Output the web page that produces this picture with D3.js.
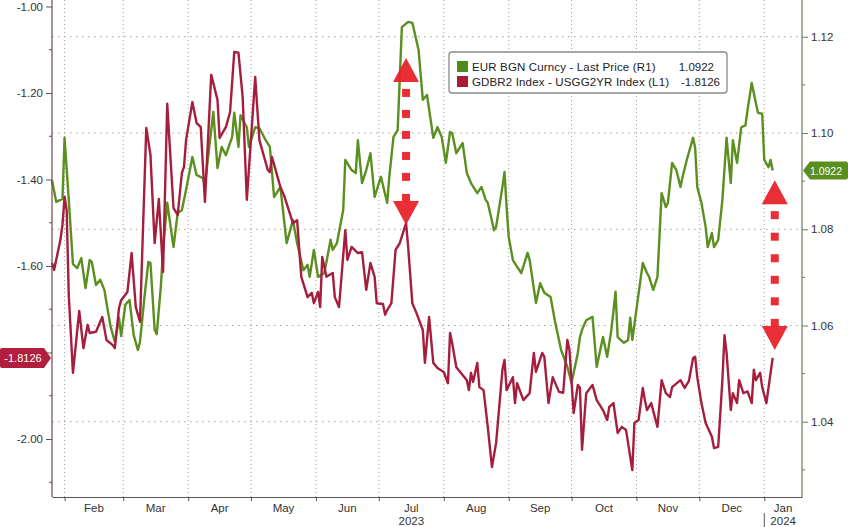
<!DOCTYPE html>
<html><head><meta charset="utf-8">
<script src="https://cdn.jsdelivr.net/npm/d3@7"></script>
<style>body{margin:0;background:#fff}svg{display:block;font-family:"Liberation Sans",Arial,sans-serif}</style>
</head><body><svg id="c" width="848" height="527"></svg>
<script>
// ---------- DATA ----------
const greenDates=["2023-01-26","2023-01-28","2023-01-31","2023-02-01","2023-02-03","2023-02-05","2023-02-07","2023-02-09","2023-02-11","2023-02-13","2023-02-14","2023-02-16","2023-02-18","2023-02-20","2023-02-21","2023-02-23","2023-02-25","2023-02-27","2023-02-28","2023-03-02","2023-03-04","2023-03-06","2023-03-08","2023-03-09","2023-03-11","2023-03-13","2023-03-14","2023-03-16","2023-03-17","2023-03-19","2023-03-20","2023-03-22","2023-03-25","2023-03-27","2023-03-29","2023-03-31","2023-04-03","2023-04-05","2023-04-08","2023-04-09","2023-04-13","2023-04-15","2023-04-17","2023-04-19","2023-04-22","2023-04-23","2023-04-25","2023-04-26","2023-04-29","2023-04-30","2023-05-03","2023-05-05","2023-05-08","2023-05-10","2023-05-12","2023-05-15","2023-05-18","2023-05-21","2023-05-23","2023-05-26","2023-05-28","2023-05-29","2023-05-31","2023-06-02","2023-06-05","2023-06-08","2023-06-09","2023-06-11","2023-06-14","2023-06-15","2023-06-18","2023-06-20","2023-06-21","2023-06-23","2023-06-25","2023-06-27","2023-06-29","2023-07-02","2023-07-05","2023-07-06","2023-07-08","2023-07-10","2023-07-12","2023-07-15","2023-07-17","2023-07-20","2023-07-22","2023-07-24","2023-07-27","2023-07-29","2023-07-31","2023-08-02","2023-08-04","2023-08-05","2023-08-07","2023-08-10","2023-08-12","2023-08-14","2023-08-17","2023-08-19","2023-08-21","2023-08-22","2023-08-25","2023-08-26","2023-08-29","2023-08-30","2023-08-31","2023-09-01","2023-09-03","2023-09-05","2023-09-07","2023-09-10","2023-09-11","2023-09-14","2023-09-16","2023-09-18","2023-09-21","2023-09-23","2023-09-26","2023-09-29","2023-10-01","2023-10-04","2023-10-05","2023-10-06","2023-10-08","2023-10-11","2023-10-13","2023-10-16","2023-10-18","2023-10-20","2023-10-22","2023-10-23","2023-10-26","2023-10-28","2023-10-29","2023-10-30","2023-11-04","2023-11-06","2023-11-07","2023-11-09","2023-11-11","2023-11-13","2023-11-15","2023-11-16","2023-11-18","2023-11-20","2023-11-22","2023-11-23","2023-11-25","2023-11-28","2023-11-29","2023-11-30","2023-12-02","2023-12-04","2023-12-05","2023-12-07","2023-12-08","2023-12-10","2023-12-12","2023-12-14","2023-12-16","2023-12-17","2023-12-19","2023-12-21","2023-12-23","2023-12-24","2023-12-26","2023-12-28","2023-12-29","2023-12-31","2024-01-01","2024-01-03","2024-01-04","2024-01-05"];
const greenValues=[1.0902,1.0857,1.0863,1.0990,1.0861,1.0728,1.0719,1.0740,1.0678,1.0736,1.0732,1.0684,1.0695,1.0674,1.0647,1.0597,1.0566,1.0616,1.0578,1.0643,1.0653,1.0580,1.0549,1.0566,1.0653,1.0732,1.0730,1.0591,1.0582,1.0684,1.0757,1.0855,1.0763,1.0834,1.0840,1.0882,1.0950,1.0913,1.0906,1.0892,1.1044,1.0927,1.0971,1.0954,1.0992,1.1042,1.0971,1.1037,1.1012,1.0971,1.1012,1.1010,1.0985,1.0971,1.0867,1.0888,1.0771,1.0819,1.0771,1.0715,1.0726,1.0701,1.0757,1.0701,1.0709,1.0778,1.0757,1.0771,1.0840,1.0944,1.0923,1.0917,1.0985,1.0896,1.0923,1.0958,1.0867,1.0909,1.0855,1.0909,1.0992,1.1006,1.1220,1.1231,1.1229,1.1172,1.1069,1.1079,1.0990,1.1012,1.0992,1.0938,1.1002,1.1000,1.0958,1.0979,1.0917,1.0896,1.0875,1.0888,1.0861,1.0855,1.0798,1.0805,1.0888,1.0919,1.0846,1.0784,1.0736,1.0722,1.0709,1.0751,1.0736,1.0647,1.0688,1.0668,1.0659,1.0611,1.0549,1.0514,1.0481,1.0543,1.0576,1.0591,1.0611,1.0618,1.0514,1.0576,1.0535,1.0591,1.0670,1.0576,1.0564,1.0570,1.0616,1.0570,1.0730,1.0709,1.0701,1.0674,1.0701,1.0875,1.0846,1.0855,1.0938,1.0923,1.0888,1.0909,1.0944,1.0990,1.0969,1.0888,1.0855,1.0805,1.0763,1.0792,1.0763,1.0778,1.0861,1.0990,1.0896,1.0985,1.0938,1.1012,1.1016,1.1048,1.1104,1.1062,1.1042,1.1040,1.0944,1.0929,1.0944,1.0922];

const redDates=["2023-01-26","2023-01-27","2023-01-30","2023-01-31","2023-02-01","2023-02-02","2023-02-03","2023-02-05","2023-02-08","2023-02-10","2023-02-12","2023-02-13","2023-02-16","2023-02-19","2023-02-21","2023-02-24","2023-02-25","2023-02-27","2023-02-28","2023-03-03","2023-03-05","2023-03-07","2023-03-09","2023-03-12","2023-03-14","2023-03-16","2023-03-18","2023-03-20","2023-03-22","2023-03-25","2023-03-27","2023-03-29","2023-03-30","2023-03-31","2023-04-03","2023-04-05","2023-04-07","2023-04-09","2023-04-12","2023-04-15","2023-04-16","2023-04-19","2023-04-21","2023-04-23","2023-04-25","2023-04-27","2023-04-29","2023-05-03","2023-05-05","2023-05-09","2023-05-10","2023-05-11","2023-05-15","2023-05-17","2023-05-21","2023-05-23","2023-05-25","2023-05-28","2023-05-30","2023-05-31","2023-06-02","2023-06-03","2023-06-04","2023-06-06","2023-06-09","2023-06-10","2023-06-12","2023-06-15","2023-06-16","2023-06-18","2023-06-21","2023-06-23","2023-06-25","2023-06-27","2023-06-29","2023-06-30","2023-07-03","2023-07-04","2023-07-05","2023-07-07","2023-07-09","2023-07-11","2023-07-14","2023-07-15","2023-07-17","2023-07-19","2023-07-22","2023-07-23","2023-07-25","2023-07-27","2023-07-29","2023-08-01","2023-08-03","2023-08-04","2023-08-05","2023-08-07","2023-08-10","2023-08-12","2023-08-13","2023-08-14","2023-08-15","2023-08-17","2023-08-18","2023-08-20","2023-08-22","2023-08-24","2023-08-26","2023-08-29","2023-08-30","2023-08-31","2023-09-03","2023-09-04","2023-09-05","2023-09-08","2023-09-11","2023-09-13","2023-09-14","2023-09-17","2023-09-18","2023-09-20","2023-09-22","2023-09-25","2023-09-27","2023-09-29","2023-09-30","2023-10-02","2023-10-04","2023-10-05","2023-10-06","2023-10-08","2023-10-11","2023-10-13","2023-10-16","2023-10-18","2023-10-19","2023-10-21","2023-10-23","2023-10-25","2023-10-27","2023-10-30","2023-10-31","2023-11-02","2023-11-04","2023-11-05","2023-11-06","2023-11-08","2023-11-11","2023-11-13","2023-11-15","2023-11-17","2023-11-18","2023-11-22","2023-11-24","2023-11-26","2023-11-28","2023-11-29","2023-11-30","2023-12-02","2023-12-04","2023-12-07","2023-12-08","2023-12-10","2023-12-12","2023-12-13","2023-12-14","2023-12-16","2023-12-17","2023-12-19","2023-12-20","2023-12-22","2023-12-24","2023-12-26","2023-12-27","2023-12-28","2023-12-30","2023-12-31","2024-01-02","2024-01-05"];
const redValues=[-1.593,-1.609,-1.540,-1.505,-1.440,-1.471,-1.667,-1.847,-1.704,-1.790,-1.736,-1.755,-1.752,-1.718,-1.771,-1.783,-1.790,-1.697,-1.679,-1.660,-1.570,-1.695,-1.729,-1.281,-1.343,-1.547,-1.445,-1.614,-1.225,-1.466,-1.482,-1.385,-1.371,-1.309,-1.221,-1.269,-1.279,-1.452,-1.158,-1.216,-1.304,-1.279,-1.244,-1.105,-1.107,-1.209,-1.447,-1.163,-1.309,-1.378,-1.383,-1.348,-1.417,-1.440,-1.501,-1.494,-1.625,-1.672,-1.662,-1.686,-1.660,-1.695,-1.579,-1.625,-1.616,-1.672,-1.695,-1.517,-1.586,-1.556,-1.570,-1.568,-1.655,-1.593,-1.625,-1.686,-1.688,-1.713,-1.702,-1.686,-1.563,-1.547,-1.501,-1.556,-1.686,-1.709,-1.748,-1.824,-1.718,-1.824,-1.836,-1.845,-1.871,-1.755,-1.778,-1.834,-1.852,-1.864,-1.887,-1.847,-1.868,-1.824,-1.880,-1.887,-1.972,-2.065,-2.009,-1.840,-1.817,-1.887,-1.857,-1.917,-1.871,-1.910,-1.894,-1.801,-1.845,-1.801,-1.810,-1.917,-1.857,-1.891,-1.893,-1.771,-1.794,-1.940,-1.875,-1.882,-2.025,-1.894,-1.875,-1.910,-1.933,-1.956,-1.926,-1.917,-1.986,-1.972,-1.979,-2.072,-1.963,-1.956,-1.882,-1.910,-1.933,-1.917,-1.972,-1.864,-1.894,-1.903,-1.880,-1.864,-1.882,-1.866,-1.813,-1.810,-1.857,-1.917,-1.963,-1.995,-2.021,-2.018,-1.864,-1.760,-1.801,-1.933,-1.894,-1.917,-1.864,-1.894,-1.890,-1.917,-1.840,-1.864,-1.847,-1.880,-1.917,-1.8126];

const leftTicks=[-1.0,-1.2,-1.4,-1.6,-1.8,-2.0];
const leftMinor=[-1.1,-1.3,-1.5,-1.7,-1.9,-2.1];
const rightTicks=[1.04,1.06,1.08,1.10,1.12];
const rightMinor=[1.03,1.05,1.07,1.09,1.11];
const monthLabels=["Feb","Mar","Apr","May","Jun","Jul","Aug","Sep","Oct","Nov","Dec","Jan"];
const yearLabels=["2023","2024"];
const legendLabels=["EUR BGN Curncy - Last Price (R1)","GDBR2 Index - USGG2YR Index (L1)"];
const lastValues=["1.0922","-1.8126"];
const arrowDates=["2023-07-14","2024-01-06"];
const arrowTopR=[1.1156,1.0902];
const arrowBottomL=[-1.505,-1.794];

// ---------- CHART ----------
const svg=d3.select("#c");
const L=52,R=802,T=0,B=497;
const parse=d3.timeParse("%Y-%m-%d");
const x=d3.scaleTime().domain([new Date(2023,0,26),new Date(2024,0,19)]).range([L,R]);
const yL=d3.scaleLinear().domain([-2.1341,-0.9850]).range([B,T]);
const yR=d3.scaleLinear().domain([1.02436,1.12764]).range([B,T]);
const GREEN="#5b8f1f", RED="#a51e3e";

const monthStarts=d3.timeMonth.range(new Date(2023,1,1),new Date(2024,0,2));

// grid
const grid=svg.append("g").attr("stroke","#a0a0a0").attr("stroke-width",1).attr("stroke-dasharray","1.5,4.5");
grid.selectAll("line.h").data(rightTicks).join("line").attr("x1",L).attr("x2",R)
  .attr("y1",d=>yR(d)).attr("y2",d=>yR(d));
grid.selectAll("line.v").data(monthStarts).join("line").attr("y1",T).attr("y2",B)
  .attr("x1",d=>x(d)).attr("x2",d=>x(d)).attr("stroke-dasharray","1,3");

// lines
const gData=greenDates.map((d,i)=>({d:parse(d),v:greenValues[i]}));
const rData=redDates.map((d,i)=>({d:parse(d),v:redValues[i]}));
svg.append("path").datum(gData).attr("fill","none").attr("stroke",GREEN).attr("stroke-width",2.4)
  .attr("stroke-linejoin","round").attr("d",d3.line().x(p=>x(p.d)).y(p=>yR(p.v)));
svg.append("path").datum(rData).attr("fill","none").attr("stroke",RED).attr("stroke-width",2.4)
  .attr("stroke-linejoin","round").attr("d",d3.line().x(p=>x(p.d)).y(p=>yL(p.v)));

// axes
const fmt=v=>v.toFixed(2);
const gl=svg.append("g").attr("transform",`translate(${L},0)`)
  .call(d3.axisLeft(yL).tickValues(leftTicks).tickSize(6).tickSizeOuter(0).tickFormat(d=>Math.abs(d+1.8)<1e-9?"":fmt(d)));
gl.select(".domain").remove();
gl.selectAll("line").attr("stroke","#6b4a4a");
gl.selectAll("text").attr("fill","#333").attr("font-size",11.5).attr("font-family","Liberation Sans, Arial, sans-serif");
svg.append("g").selectAll("line").data(leftMinor).join("line").attr("x1",L-3).attr("x2",L)
  .attr("y1",d=>yL(d)).attr("y2",d=>yL(d)).attr("stroke","#6b4a4a");
svg.append("line").attr("x1",L).attr("x2",L).attr("y1",T).attr("y2",B).attr("stroke","#6b4a4a").attr("stroke-width",1.2);

const gr=svg.append("g").attr("transform",`translate(${R},0)`)
  .call(d3.axisRight(yR).tickValues(rightTicks).tickSize(6).tickSizeOuter(0).tickFormat(fmt));
gr.select(".domain").remove();
gr.selectAll("line").attr("stroke","#6d7d5e");
gr.selectAll("text").attr("fill","#333").attr("font-size",11.5).attr("font-family","Liberation Sans, Arial, sans-serif");
svg.append("g").selectAll("line").data(rightMinor).join("line").attr("x1",R).attr("x2",R+3)
  .attr("y1",d=>yR(d)).attr("y2",d=>yR(d)).attr("stroke","#6d7d5e");
svg.append("line").attr("x1",R).attr("x2",R).attr("y1",T).attr("y2",B).attr("stroke","#6d7d5e").attr("stroke-width",1.2);

// bottom axis
const gb=svg.append("g").attr("transform",`translate(0,${B})`)
  .call(d3.axisBottom(x).tickValues(monthStarts).tickSize(4).tickSizeOuter(0).tickFormat(""));
gb.select(".domain").attr("stroke","#555");
gb.selectAll("line").attr("stroke","#555");
const bounds=monthStarts.concat([x.domain()[1]]);
const mids=monthStarts.map((d,i)=>(x(d)+x(bounds[i+1]))/2);
svg.append("g").selectAll("text").data(monthLabels).join("text")
  .attr("x",(d,i)=>mids[i]).attr("y",B+15).attr("text-anchor","middle")
  .attr("font-size",11.5).attr("fill","#333").text(d=>d);
svg.append("text").attr("x",mids[5]).attr("y",B+28).attr("text-anchor","middle").attr("font-size",11.5).attr("fill","#333").text(yearLabels[0]);
svg.append("text").attr("x",mids[11]).attr("y",B+28).attr("text-anchor","middle").attr("font-size",11.5).attr("fill","#333").text(yearLabels[1]);
svg.append("line").attr("x1",x(monthStarts[11])).attr("x2",x(monthStarts[11])).attr("y1",B+16).attr("y2",527).attr("stroke","#555");

// arrows
const AR="#e8232b";
arrowDates.forEach((ds,i)=>{
  const cx=x(parse(ds)), top=yR(arrowTopR[i]), bot=yL(arrowBottomL[i]);
  const th=24, hw=13;
  const g=svg.append("g").attr("fill",AR).attr("opacity",0.95);
  g.append("path").attr("d",`M${cx},${top}L${cx+hw},${top+th}L${cx-hw},${top+th}Z`);
  g.append("path").attr("d",`M${cx},${bot}L${cx+hw},${bot-th}L${cx-hw},${bot-th}Z`);
  const a=top+th, b=bot-th, n=6, s=8, pitch=(b-a-s-6)/(n-1);
  for(let k=0;k<n;k++) g.append("rect").attr("x",cx-s/2).attr("y",a+7+k*pitch).attr("width",s).attr("height",s);
});

// legend
const lg=svg.append("g");
lg.append("rect").attr("x",449).attr("y",52).attr("width",278).attr("height",41).attr("rx",3)
  .attr("fill","#fff").attr("stroke","#8a8a8a").attr("stroke-width",1.3);
[GREEN,RED].forEach((c,i)=>{
  lg.append("rect").attr("x",457).attr("y",61+i*15).attr("width",11).attr("height",11).attr("fill",i?"#a81c38":"#4f8a1a");
  lg.append("text").attr("x",472).attr("y",71+i*15).attr("font-size",11.5).attr("letter-spacing",0.15).attr("fill","#222").text(legendLabels[i]);
  lg.append("text").attr("x",i?720:714).attr("y",71+i*15).attr("text-anchor","end").attr("font-size",11.5).attr("fill","#222").text(lastValues[i]);
});

// value flags
const gy=yR(greenValues[greenValues.length-1]);
svg.append("path").attr("d",`M${R+1},${gy}L${R+8},${gy-9}H846Q848,${gy-9} 848,${gy-7}V${gy+7}Q848,${gy+9} 846,${gy+9}H${R+8}Z`).attr("fill","#5a8e1e");
svg.append("text").attr("x",826).attr("y",gy+4).attr("text-anchor","middle").attr("font-size",10.5).attr("fill","#fff").text(lastValues[0]);
const ry=yL(redValues[redValues.length-1]);
svg.append("path").attr("d",`M${L-1},${ry}L${L-8},${ry-10}H2Q0,${ry-10} 0,${ry-8}V${ry+8}Q0,${ry+10} 2,${ry+10}H${L-8}Z`).attr("fill","#b01f3d");
svg.append("text").attr("x",23).attr("y",ry+4).attr("text-anchor","middle").attr("font-size",11).attr("fill","#fff").text(lastValues[1]);
</script></body></html>
